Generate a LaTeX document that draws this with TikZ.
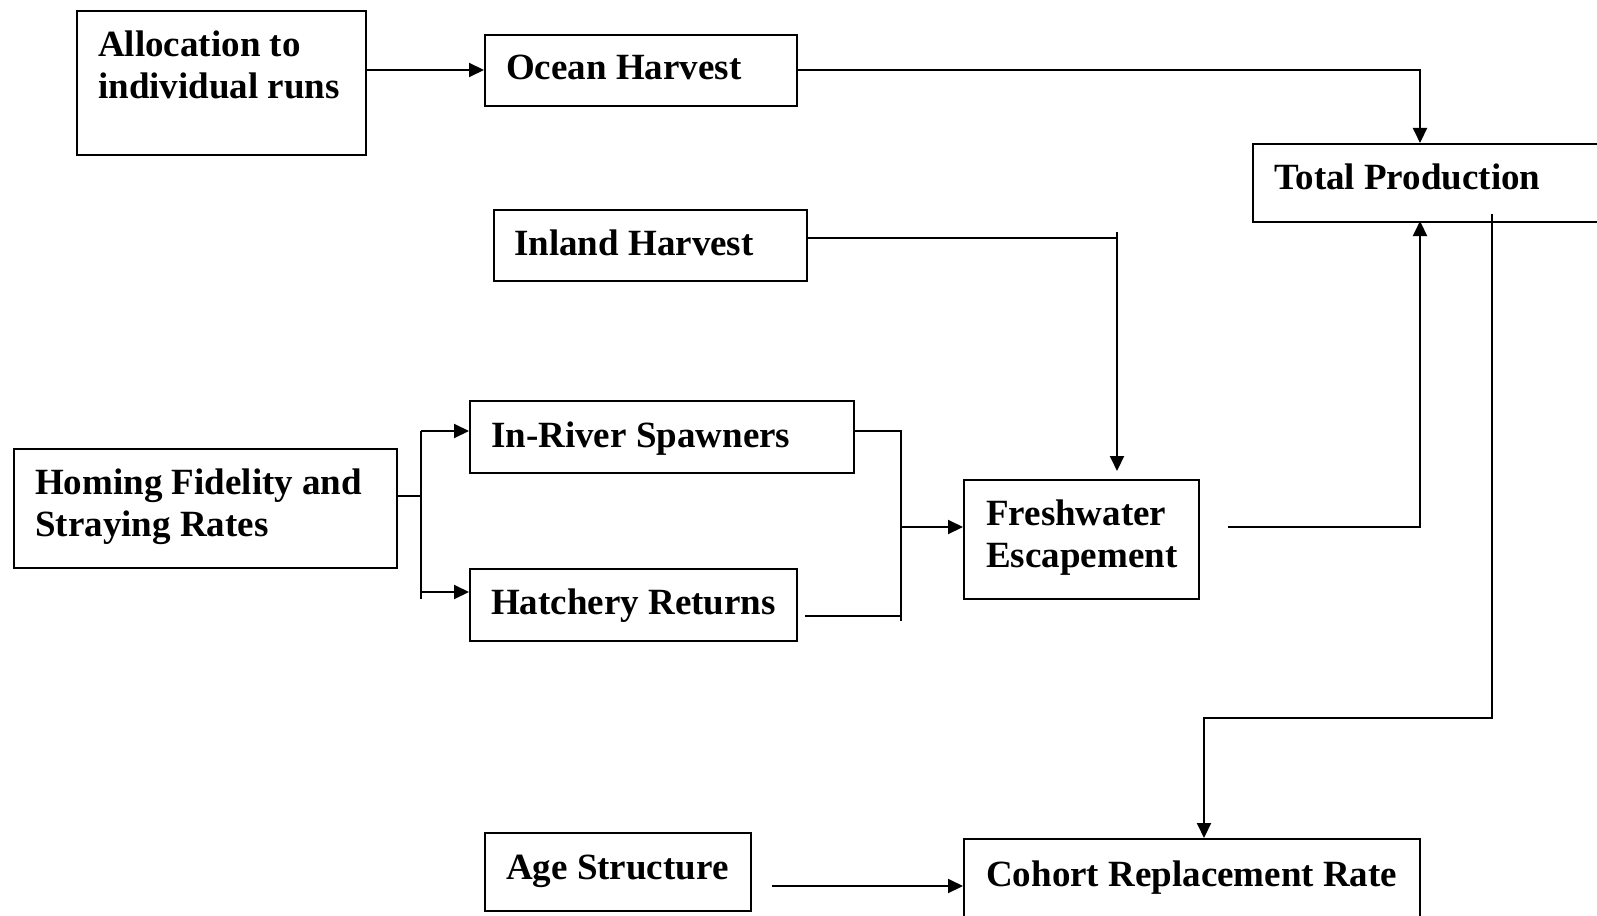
\documentclass[tikz,border=0pt]{standalone}
\usepackage{fontspec}
\setmainfont{Liberation Serif}
\usetikzlibrary{arrows.meta,calc}
\begin{document}
\begin{tikzpicture}[x=1pt,y=1pt,
  box/.style={draw,line width=2.1pt,rectangle,anchor=north west,inner sep=0pt},
  txt/.style={anchor=base west,inner sep=0pt,font=\fontsize{37}{42}\selectfont\bfseries},
  conn/.style={line width=2pt},
  arr/.style={line width=2pt,-{Triangle[length=15pt,width=14pt]}}]
\useasboundingbox (0,0) rectangle (1597,-915);
\clip (0,0) rectangle (1597,-915);
% boxes
\node[box,minimum width=289pt,minimum height=144pt] (alloc) at (76,-10) {};
\node[box,minimum width=312pt,minimum height=71pt] (ocean) at (484,-34) {};
\node[box,minimum width=370pt,minimum height=78pt] (total) at (1252,-143) {};
\node[box,minimum width=313pt,minimum height=71pt] (inland) at (493,-209) {};
\node[box,minimum width=384pt,minimum height=72pt] (inriver) at (469,-400) {};
\node[box,minimum width=383pt,minimum height=119pt] (homing) at (13,-448) {};
\node[box,minimum width=327pt,minimum height=72pt] (hatch) at (469,-568) {};
\node[box,minimum width=235pt,minimum height=119pt] (fresh) at (963,-479) {};
\node[box,minimum width=266pt,minimum height=78pt] (age) at (484,-832) {};
\node[box,minimum width=456pt,minimum height=100pt] (cohort) at (963,-838) {};
% texts
\node[txt] (allocT) at (98,-57) {\begin{tabular}[t]{@{}l@{}}Allocation to\\individual runs\end{tabular}};
\node[txt] (oceanT) at (506,-80) {Ocean Harvest};
\node[txt] (totalT) at (1274,-189) {Total Production};
\node[txt] (inlandT) at (514,-255) {Inland Harvest};
\node[txt] (inriverT) at (491,-447) {In-River Spawners};
\node[txt] (homingT) at (35,-494) {\begin{tabular}[t]{@{}l@{}}Homing Fidelity and\\Straying Rates\end{tabular}};
\node[txt] (hatchT) at (491,-614) {Hatchery Returns};
\node[txt] (freshT) at (986,-525) {\begin{tabular}[t]{@{}l@{}}Freshwater\\Escapement\end{tabular}};
\node[txt] (ageT) at (506,-879) {Age Structure};
\node[txt] (cohortT) at (986,-886) {Cohort Replacement Rate};
% coordinates
\coordinate (allocY) at (0,-70);
\coordinate (totIn) at (1420,-143);
\coordinate (ih) at (1117,-238);
\coordinate (ihTop) at (1117,-232);
\coordinate (ihEnd) at (1117,-471);
\coordinate (hj) at (421,-496);
\coordinate (hjT) at (421,-431);
\coordinate (hjB) at (421,-599);
\coordinate (hjH) at (421,-592);
\coordinate (mT) at (901,-431);
\coordinate (mB) at (901,-621);
\coordinate (mH) at (901,-616);
\coordinate (mM) at (901,-527);
\coordinate (hStart) at (805,-616);
\coordinate (fStart) at (1228,-527);
\coordinate (fUp) at (1420,-527);
\coordinate (totOut) at (1420,-221);
\coordinate (tStart) at (1492,-214);
\coordinate (tCorner) at (1492,-718);
\coordinate (cLeft) at (1204,-718);
\coordinate (cIn) at (1204,-838);
\coordinate (aStart) at (772,-886);
% connectors
\draw[arr] (alloc.east |- allocY) -- (ocean.west |- allocY);
\draw[arr] (ocean.east |- allocY) -| (totIn);
\draw[conn] (inland.east |- ih) -- (ih);
\draw[arr] (ihTop) -- (ihEnd);
\draw[conn] (homing.east |- hj) -- (hj);
\draw[conn] (hjT) -- (hjB);
\draw[arr] (hjT) -- (inriver.west |- hjT);
\draw[arr] (hjH) -- (hatch.west |- hjH);
\draw[conn] (inriver.east |- mT) -- (mT) -- (mB);
\draw[conn] (hStart) -- (mH);
\draw[arr] (mM) -- (fresh.west |- mM);
\draw[arr] (fStart) -- (fUp) -- (totOut);
\draw[arr] (tStart) -- (tCorner) -- (cLeft) -- (cIn);
\draw[arr] (aStart) -- (cohort.west |- aStart);
\end{tikzpicture}
\end{document}
